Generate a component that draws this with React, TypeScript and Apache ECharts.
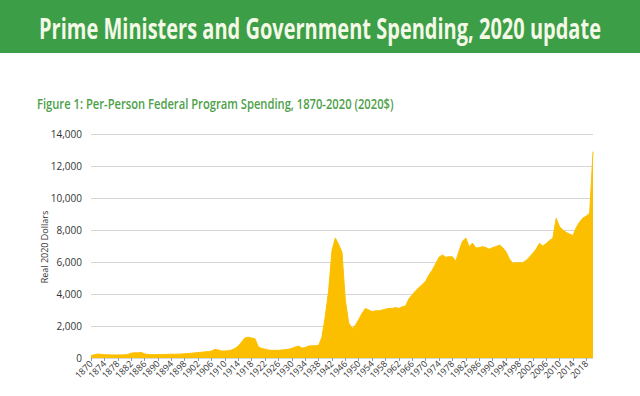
import React, { useEffect, useRef } from "react";
import * as echarts from "echarts";

const headerTitle = "Prime Ministers and Government Spending, 2020 update";
const figureTitle = "Figure 1: Per-Person Federal Program Spending, 1870-2020 (2020$)";
const yAxisName = "Real 2020 Dollars";

const years: string[] = [];
for (let y = 1870; y <= 2020; y++) years.push(String(y));

// Per-person spending, real 2020 dollars, 1870..2020
const spending1870s = [150, 200, 250, 230, 210, 200, 190, 190, 190, 190];
const spending1880s = [200, 220, 300, 330, 320, 350, 260, 220, 210, 210];
const spending1890s = [210, 220, 220, 230, 240, 240, 240, 250, 270, 280];
const spending1900s = [300, 320, 340, 360, 380, 400, 430, 540, 500, 440];
const spending1910s = [440, 460, 500, 600, 750, 1000, 1250, 1300, 1250, 1200];
const spending1920s = [700, 600, 550, 500, 480, 480, 480, 500, 520, 550];
const spending1930s = [600, 680, 750, 620, 650, 750, 760, 770, 780, 1300];
const spending1940s = [2600, 4200, 6700, 7500, 7100, 6600, 3600, 2200, 1850, 2050];
const spending1950s = [2400, 2800, 3100, 3000, 2900, 2950, 2950, 3000, 3050, 3100];
const spending1960s = [3100, 3150, 3100, 3200, 3250, 3700, 3950, 4200, 4400, 4600];
const spending1970s = [4800, 5200, 5500, 5900, 6300, 6440, 6300, 6330, 6330, 6050];
const spending1980s = [6700, 7300, 7500, 6950, 7180, 6870, 6900, 6960, 6900, 6800];
const spending1990s = [6900, 6960, 7060, 6900, 6640, 6200, 5920, 5950, 5950, 5960];
const spending2000s = [6100, 6300, 6540, 6800, 7170, 7000, 7150, 7350, 7480, 8730];
const spending2010s = [8200, 8000, 7850, 7750, 7650, 8150, 8500, 8750, 8875, 9050];
const spending2020s = [12900];

const spending = [
  ...spending1870s, ...spending1880s, ...spending1890s, ...spending1900s,
  ...spending1910s, ...spending1920s, ...spending1930s, ...spending1940s,
  ...spending1950s, ...spending1960s, ...spending1970s, ...spending1980s,
  ...spending1990s, ...spending2000s, ...spending2010s, ...spending2020s,
];

export default function App() {
  const ref = useRef<HTMLDivElement>(null);
  useEffect(() => {
    if (!ref.current) return;
    const chart = echarts.init(ref.current, null, { renderer: "svg" });
    chart.setOption({
      animation: false,
      backgroundColor: "#ffffff",
      graphic: [
        { type: "rect", left: 0, top: 0, shape: { width: 640, height: 53 }, style: { fill: "#3c9e46" } },
        {
          type: "text",
          x: 320,
          y: 27,
          scaleX: 0.69,
          style: {
            text: headerTitle,
            fill: "#f4f8e6",
            font: "bold 29px 'Open Sans', sans-serif",
            align: "center",
            verticalAlign: "middle",
          },
        },
        {
          type: "text",
          x: 37,
          y: 103,
          scaleX: 0.8,
          style: {
            text: figureTitle,
            fill: "#4e9f4a",
            font: "600 14px 'Open Sans', sans-serif",
            align: "left",
            verticalAlign: "middle",
          },
        },
        {
          type: "text",
          x: 44,
          y: 247,
          rotation: Math.PI / 2,
          style: {
            text: yAxisName,
            fill: "#333",
            font: "9px 'Open Sans', sans-serif",
            align: "center",
            verticalAlign: "middle",
          },
        },
      ],
      grid: { left: 91, right: 47, top: 134, bottom: 38, containLabel: false },
      xAxis: {
        type: "category",
        data: years,
        boundaryGap: false,
        axisLine: { show: true, lineStyle: { color: "#d8d8d8", width: 1 } },
        axisTick: { show: true, interval: 3, length: 3, lineStyle: { color: "#999" } },
        axisLabel: {
          interval: 3,
          rotate: 45,
          fontSize: 9,
          color: "#333",
          fontFamily: "'Open Sans', sans-serif",
          margin: 4,
        },
        splitLine: { show: false },
      },
      yAxis: {
        type: "value",
        min: 0,
        max: 14000,
        interval: 2000,
        axisLine: { show: false },
        axisTick: { show: false },
        axisLabel: {
          fontSize: 10,
          color: "#333",
          fontFamily: "'Open Sans', sans-serif",
          margin: 9,
          formatter: (v: number) => v.toLocaleString("en-US"),
        },
        splitLine: { show: true, lineStyle: { color: "#d4d4d4", width: 1 } },
      },
      series: [
        {
          type: "line",
          data: spending,
          showSymbol: false,
          symbol: "none",
          lineStyle: { width: 1, color: "#fcbf00" },
          areaStyle: { color: "#fcbf00", opacity: 1 },
          itemStyle: { color: "#fcbf00" },
        },
      ],
    });
    return () => chart.dispose();
  }, []);
  return (
    <div
      ref={ref}
      style={{ position: "fixed", left: 0, top: 0, width: 640, height: 396, background: "#fff" }}
    />
  );
}
